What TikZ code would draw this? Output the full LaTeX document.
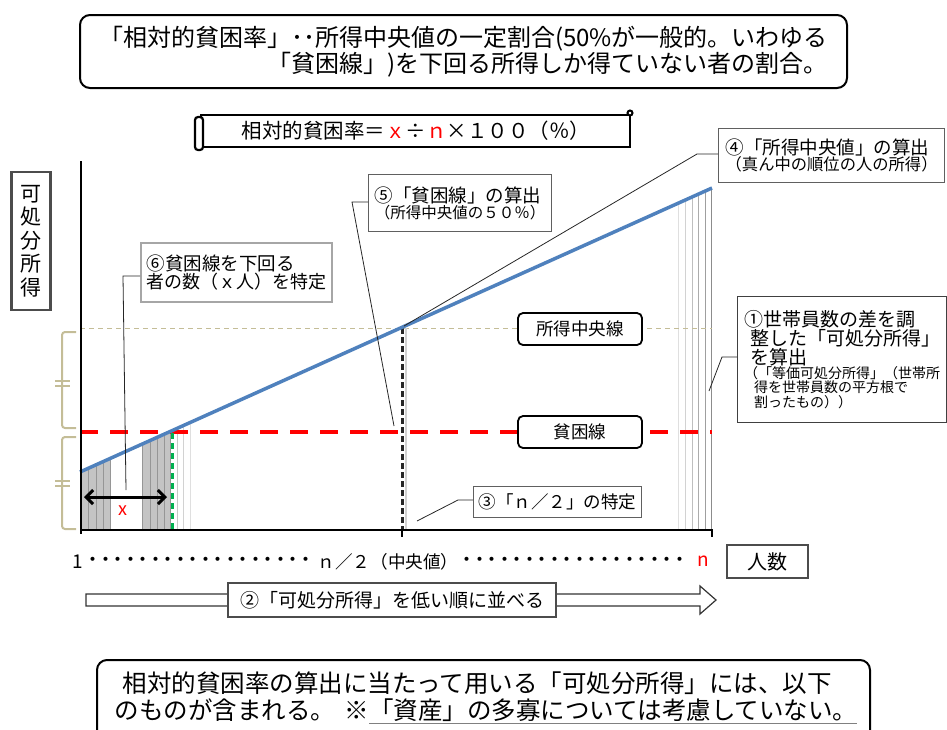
\documentclass[tikz,border=0pt]{standalone}
\usepackage{fontspec}
\setmainfont{Noto Sans CJK JP}
\usetikzlibrary{arrows.meta}
\definecolor{tanc}{RGB}{196,189,151}
\definecolor{bluec}{RGB}{79,129,189}
\definecolor{greenc}{RGB}{0,176,80}
\definecolor{barc}{RGB}{196,196,196}
\definecolor{barl}{RGB}{150,150,150}
\newcommand{\jfs}[2]{\fontsize{#1}{#2}\selectfont}
\begin{document}
\begin{tikzpicture}[x=1pt,y=-1pt,
  callout/.style={draw=gray!75!black, line width=1.2pt, fill=white, inner sep=3pt, align=left, anchor=north west},
  lblbox/.style={draw=black, line width=1.8pt, rounded corners=5pt, fill=white, minimum width=124pt, minimum height=32pt, inner sep=0pt, font=\jfs{17.5}{20}},
  leader/.style={draw=black!85, line width=0.8pt},
  axisline/.style={line width=2.5pt},
  bracket/.style={tanc, line width=2pt},
]
\useasboundingbox (0,0) rectangle (947,729);

% ---------- top explanation box
\node[draw, line width=2pt, rounded corners=10pt, minimum width=767pt, minimum height=73pt,
      align=right, font=\jfs{24}{26}] (top) at (463.5,51.5)
  {「相対的貧困率」･･所得中央値の一定割合(50\%が一般的。いわゆる\\「貧困線」)を下回る所得しか得ていない者の割合。};

% ---------- scroll with formula
\draw[line width=2.2pt, fill=white] (201,115) rectangle (630,147);
\draw[line width=2.2pt, fill=white, rounded corners=3pt] (195,117) rectangle (203,150);
\draw[line width=2pt, fill=white] (630,113) circle (2.5);
\node[font=\jfs{20.5}{22}] (formula) at (416,131)
  {相対的貧困率＝{\color{red}ｘ}÷{\color{red}ｎ}×１００（％）};

% ---------- y label
\node[draw=gray!60!black, line width=2.5pt, minimum width=39pt, minimum height=138pt,
      align=center, font=\jfs{21}{23.5}, inner sep=0pt] (ylab) at (31,241) {可\\処\\分\\所\\得};

% ---------- coordinates
\coordinate (b0) at (80,472);
\coordinate (b1) at (712,188);
\coordinate (med) at (402,328);
\coordinate (o) at (80,530);

% ---------- shaded persons below poverty line
\fill[barc] (80,530) -- (80,472) -- (110,458.5) -- (110,530) -- cycle;
\fill[barc] (142,530) -- (142,444.2) -- (170,431.6) -- (170,530) -- cycle;
\foreach \xx in {88,96,103,110,142,150,157,164,170}
  \draw[barl, line width=1pt] (\xx,530) -- (\xx,{472-0.4485*(\xx-80)});
\foreach \xx/\cc in {177/gray!45,183/gray!35,190/gray!25}
  \draw[\cc, line width=1pt] (\xx,530) -- (\xx,{472-0.4485*(\xx-80)});
\foreach \xx/\cc in {678/gray!25,685/gray!35,692/gray!50,698/gray!65,705/gray!75,711/gray!90}
  \draw[\cc, line width=1pt] (\xx,530) -- (\xx,{472-0.4485*(\xx-80)});

% ---------- median line and vertical at n/2
\draw[tanc, line width=1pt, dash pattern=on 5pt off 4pt] (80,328) -- (712,328);
\draw[gray!35, line width=2pt] (406,328) -- (406,530);
\draw[black!85, line width=3pt, dash pattern=on 6pt off 3pt] (med) -- (402,530);

% ---------- poverty line
\draw[red, line width=4pt, dash pattern=on 18pt off 12pt] (80,432) -- (712,432);
\draw[greenc, line width=3pt, dash pattern=on 6pt off 4pt] (172,433) -- (172,530);

% ---------- income line
\draw[bluec, line width=3.5pt] (b0) -- (b1);

% ---------- axes
\draw[axisline] (81,161) -- (81,534);
\draw[axisline] (o) -- (712,530);
\draw[line width=2pt] (402,530) -- (402,537);
\draw[line width=2pt] (712,529) -- (712,537);

% ---------- brackets
\draw[bracket, rounded corners=3pt] (76,332) -- (62,332) -- (62,428) -- (76,428);
\draw[bracket] (55,380.5) -- (70,380.5) (55,386) -- (70,386);
\draw[bracket, rounded corners=3pt] (76,437) -- (62,437) -- (62,529) -- (76,529);
\draw[bracket] (55,480.5) -- (70,480.5) (55,486) -- (70,486);

% ---------- x count arrow
\coordinate (xa) at (84,497);
\coordinate (xb) at (167,497);
\draw[line width=3pt, {Straight Barb[length=7pt,width=14pt]}-{Straight Barb[length=7pt,width=14pt]}] (xa) -- (xb);
\node[red, font=\jfs{18}{20}] (xlab) at (123,511) {x};

% ---------- label boxes on the lines
\node[lblbox] (lm) at (580,329) {所得中央線};
\node[lblbox] (lp) at (580,432) {貧困線};

% ---------- callout 4
\node[callout, inner sep=2pt, minimum width=226pt, minimum height=54pt] (c4) at (718,128)
  {{\jfs{18.5}{22}④「所得中央値」の算出}\\{\jfs{16.3}{21}（真ん中の順位の人の所得）}};
\coordinate (k4) at (697,154);
\draw[leader] (c4.west |- k4) -- (k4) -- (404,326);

% ---------- callout 5
\node[callout, minimum width=183pt, minimum height=57pt] (c5) at (368,174)
  {{\jfs{18.5}{23}⑤「貧困線」の算出}\\{\jfs{15.5}{20}（所得中央値の５０％）}};
\coordinate (k5) at (352,202);
\coordinate (e5) at (394,426);
\draw[leader] (c5.west |- k5) -- (k5) -- (e5);

% ---------- callout 6
\node[callout, draw=gray!70, line width=2pt, minimum width=191pt, minimum height=59pt] (c6) at (140,242)
  {{\jfs{18.5}{23}⑥貧困線を下回る}\\{\jfs{18}{23}者の数（ｘ人）を特定}};
\coordinate (k6) at (123,276);
\coordinate (e6) at (126,490);
\draw[leader] (c6.west |- k6) -- (k6) -- (e6);

% ---------- callout 1
\node[callout, draw=black!75, minimum width=209pt, minimum height=126pt] (c1) at (737,296)
  {{\jfs{19}{24}①世帯員数の差を調}\\{\jfs{19}{24}\hspace*{6pt}整した「可処分所得」}\\{\jfs{19}{23}\hspace*{6pt}を算出}\\
   {\jfs{14}{16.5}（「等価可処分所得」（世帯所}\\{\jfs{14}{16.5}\hspace*{10pt}得を世帯員数の平方根で}\\{\jfs{14}{16.5}\hspace*{10pt}割ったもの））}};
\coordinate (k1) at (722,357);
\coordinate (e1) at (709,391);
\draw[leader] (c1.west |- k1) -- (k1) -- (e1);

% ---------- callout 3
\node[callout, minimum width=168pt, minimum height=31pt] (c3) at (473,486)
  {{\jfs{17.5}{20}③「ｎ／２」の特定}};
\coordinate (k3) at (458,500);
\coordinate (e3) at (417,521);
\draw[leader] (c3.west |- k3) -- (k3) -- (e3);

% ---------- x axis labels
\node[font=\jfs{19}{22}, anchor=west, inner sep=0pt] (one) at (72,562) {1};
\node[font=\jfs{19}{20}, anchor=west, inner sep=0pt] (dl) at (87,562)
  {\hbox to 225pt{\xleaders\hbox to 12.5pt{\hss・\hss}\hfill}};
\node[font=\jfs{17.6}{20}, inner sep=0pt] (mid) at (388,562) {ｎ／２（中央値）};
\node[font=\jfs{19}{20}, anchor=west, inner sep=0pt] (dr) at (461,562)
  {\hbox to 225pt{\xleaders\hbox to 12.5pt{\hss・\hss}\hfill}};
\node[font=\jfs{19}{22}, red, inner sep=0pt] (nn) at (703,561) {n};
\node[draw=gray!60!black, line width=2.2pt, minimum width=81pt, minimum height=33pt,
      font=\jfs{20}{22}, inner sep=0pt] (ninzu) at (767.5,561.5) {人数};

% ---------- sorting arrow
\draw[line width=1.2pt, draw=black!80, fill=white]
  (86,594) -- (700,594) -- (700,586) -- (716,600) -- (700,614) -- (700,606) -- (86,606) -- cycle;
\node[draw=black!70, line width=1.2pt, fill=white, minimum width=328pt, minimum height=34pt,
      font=\jfs{19}{22}, inner sep=0pt] (c2) at (392,600) {②「可処分所得」を低い順に並べる};

% ---------- bottom box
\draw[line width=2pt, rounded corners=10pt] (97,745) -- (97,660) -- (870,660) -- (870,745);
\node[font=\jfs{24.5}{27}, align=left, inner sep=0pt] (bot) at (486,698)
  {\hspace*{8pt}相対的貧困率の算出に当たって用いる「可処分所得」には、以下\\
   のものが含まれる。\hspace{0.4em}※{\color{gray}\underline{\color{black}「資産」の多寡については考慮していない。}}};
\end{tikzpicture}
\end{document}
